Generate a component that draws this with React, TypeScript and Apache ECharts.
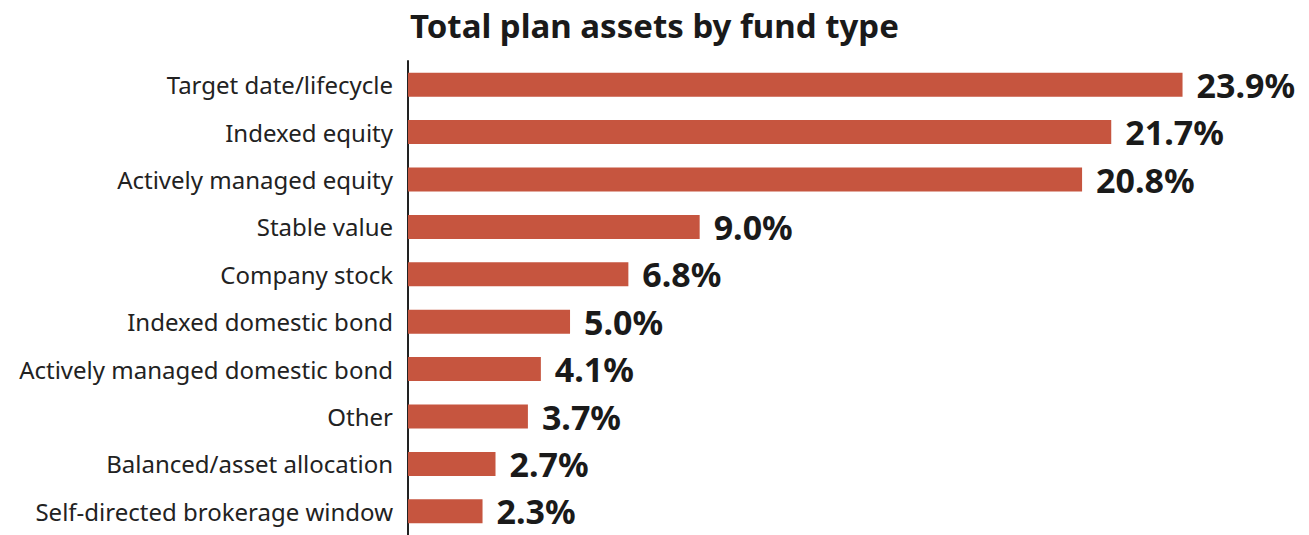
import React, { useEffect, useRef } from "react";
import * as echarts from "echarts";

const categories = [
  "Target date/lifecycle",
  "Indexed equity",
  "Actively managed equity",
  "Stable value",
  "Company stock",
  "Indexed domestic bond",
  "Actively managed domestic bond",
  "Other",
  "Balanced/asset allocation",
  "Self-directed brokerage window",
];
const values = [23.9, 21.7, 20.8, 9.0, 6.8, 5.0, 4.1, 3.7, 2.7, 2.3];
const titleText = "Total plan assets by fund type";

export default function App() {
  const ref = useRef<HTMLDivElement>(null);
  useEffect(() => {
    if (!ref.current) return;
    const chart = echarts.init(ref.current, null, { renderer: "svg" });
    chart.setOption({
      animation: false,
      backgroundColor: "#ffffff",
      title: {
        text: titleText,
        left: 405,
        top: 4,
        textStyle: {
          fontFamily: "Noto Sans",
          fontWeight: "bold",
          fontSize: 33,
          color: "#1a1a1a",
        },
      },
      grid: { left: 408, top: 61, height: 476, right: 26 },
      xAxis: {
        type: "value",
        min: 0,
        max: 27,
        show: false,
      },
      yAxis: {
        type: "category",
        data: categories,
        inverse: true,
        axisLine: { show: true, lineStyle: { color: "#222", width: 2 } },
        axisTick: { show: false },
        axisLabel: {
          margin: 15,
          fontFamily: "Noto Sans",
          fontSize: 24,
          color: "#222",
        },
      },
      series: [
        {
          type: "bar",
          data: values,
          barWidth: 24,
          itemStyle: { color: "#c6553f" },
          label: {
            show: true,
            position: "right",
            distance: 14,
            formatter: (p: any) => p.value.toFixed(1) + "%",
            fontFamily: "Noto Sans",
            fontWeight: "bold",
            fontSize: 34,
            color: "#1a1a1a",
          },
        },
      ],
    });
    return () => chart.dispose();
  }, []);
  return (
    <div
      ref={ref}
      style={{ position: "absolute", left: 0, top: 0, width: 1309, height: 535 }}
    />
  );
}
